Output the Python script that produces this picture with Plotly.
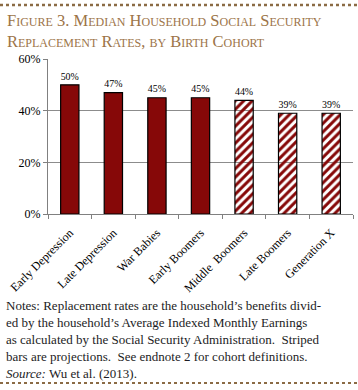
import plotly.graph_objects as go

categories = ["Early Depression", "Late Depression", "War Babies", "Early Boomers",
              "Middle  Boomers", "Late Boomers", "Generation X"]
values = [50, 47, 45, 45, 44, 39, 39]
projected = [False, False, False, False, True, True, True]
y_ticks = [0, 20, 40, 60]
y_tick_labels = ["0%", "20%", "40%", "60%"]

RED = "#860808"
SERIF = "Liberation Serif, Times New Roman, Times, serif"

fig = go.Figure()
fig.add_trace(go.Bar(
    x=categories,
    y=values,
    width=0.42,
    marker=dict(
        color=[RED for p in projected],
        line=dict(color="black", width=1.2),
        pattern=dict(
            shape=["/" if p else "" for p in projected],
            fgcolor=[RED for p in projected],
            bgcolor=["white" for p in projected],
            fillmode="replace",
            size=6,
            solidity=0.5,
        ),
    ),
    texttemplate="%{y:.0f}%",
    textposition="outside",
    textfont=dict(family=SERIF, size=13, color="black"),
    cliponaxis=False,
    showlegend=False,
))

fig.update_layout(
    width=358, height=390,
    margin=dict(l=48, r=5, t=59, b=176, autoexpand=False),
    paper_bgcolor="white", plot_bgcolor="white",
    font=dict(family=SERIF, color="black"),
    xaxis=dict(
        automargin=False,
        tickangle=-45,
        tickfont=dict(family=SERIF, size=12, color="black"),
        showline=True, linecolor="#808080", linewidth=1,
        ticks="outside", ticklen=4, tickcolor="#808080",
        tickson="boundaries",
        ticklabelstandoff=6,
        showgrid=False,
    ),
    yaxis=dict(
        automargin=False,
        range=[0, 60],
        tickvals=y_ticks, ticktext=y_tick_labels,
        tickfont=dict(family=SERIF, size=12, color="black"),
        showline=True, linecolor="#808080", linewidth=1,
        ticks="outside", ticklen=4, tickcolor="#808080",
        showgrid=True, gridcolor="#8c8c8c", gridwidth=1,
        zeroline=False,
    ),
)

# Title (two lines, small caps)
fig.add_annotation(
    xref="paper", yref="paper", x=0, y=1,
    xshift=-48 + 5, yshift=59 - 9,
    xanchor="left", yanchor="top", align="left",
    text="Figure 3. Median Household Social Security<br>Replacement Rates, by Birth Cohort",
    font=dict(family=SERIF, size=16.5, color="#9C7448", variant="small-caps"),
    showarrow=False,
)

# Notes
notes = ("Notes: Replacement rates are the household\u2019s benefits divid-<br>"
         "ed by the household\u2019s Average Indexed Monthly Earnings<br>"
         "as calculated by the Social Security Administration.  Striped<br>"
         "bars are projections.  See endnote 2 for cohort definitions.<br>"
         "<i>Source:</i> Wu et al. (2013).")
fig.add_annotation(
    xref="paper", yref="paper", x=0, y=0,
    xshift=-48 + 4, yshift=-(296 - 214),
    xanchor="left", yanchor="top", align="left",
    text=notes,
    font=dict(family=SERIF, size=13, color="#1c1c24"),
    showarrow=False,
)

# Rules top and bottom
fig.add_shape(type="line", xref="paper", yref="paper",
              x0=-48 / 305, x1=1 + 5 / 305, y0=1 + (59 - 5) / 155, y1=1 + (59 - 5) / 155,
              line=dict(color="#8B6B45", width=2.5, dash="dot"))
fig.add_shape(type="line", xref="paper", yref="paper",
              x0=-48 / 305, x1=1 + 5 / 305, y0=-(383 - 214) / 155, y1=-(383 - 214) / 155,
              line=dict(color="#8B6B45", width=2, dash="dot"))

fig.write_html("out.html", config={"displayModeBar": False},
               post_script="document.body.style.margin='0';")
